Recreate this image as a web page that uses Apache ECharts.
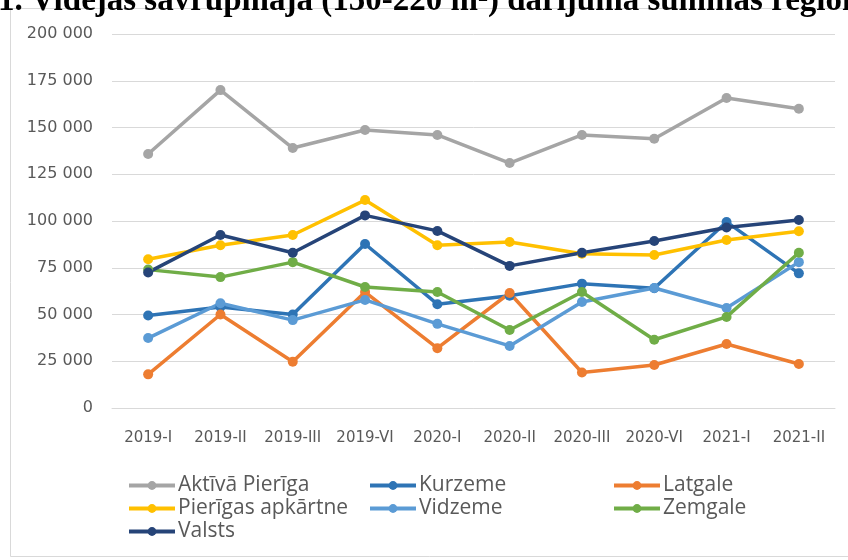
<!DOCTYPE html>
<html>
<head>
<meta charset="utf-8">
<script src="https://cdn.jsdelivr.net/npm/echarts@6/dist/echarts.min.js"></script>
<style>
  html, body { margin: 0; padding: 0; background: #fff; }
  #chart { width: 848px; height: 560px; }
</style>
</head>
<body>
<div id="chart"></div>
<script>
var chart = echarts.init(document.getElementById('chart'));

var periods = ['2019-I', '2019-II', '2019-III', '2019-VI', '2020-I', '2020-II', '2020-III', '2020-VI', '2021-I', '2021-II'];

var aktivaPieriga = [135800, 170000, 139000, 148700, 146000, 131000, 146000, 144000, 165800, 160000];
var kurzeme       = [49500, 54000, 50000, 87700, 55500, 60000, 66500, 64000, 99500, 72000];
var latgale       = [18000, 50000, 24700, 62000, 32000, 61500, 19000, 23000, 34200, 23500];
var pierigasApk   = [79500, 87000, 92500, 111200, 87000, 88800, 82500, 81800, 89800, 94500];
var vidzeme       = [37400, 56000, 47000, 57800, 45000, 33200, 56700, 64200, 53500, 78000];
var zemgale       = [74000, 70000, 78000, 64700, 62000, 41700, 62000, 36500, 48700, 83000];
var valsts        = [72500, 92500, 83000, 103000, 94700, 76000, 83000, 89300, 96500, 100500];

var titleText = '1. Vidējās savrupmāja (150-220 m²) darījuma summas reģionos';

function line(name, data, color) {
    return {
        name: name,
        type: 'line',
        data: data,
        symbol: 'circle',
        symbolSize: 10,
        lineStyle: { width: 3.5, color: color },
        itemStyle: { color: color },
        animation: false
    };
}

var legendStyle = {
    orient: 'vertical',
    top: 469,
    itemGap: 0,
    itemWidth: 46,
    itemHeight: 11,
    lineStyle: { width: 4 },
    textStyle: {
        fontSize: 21, lineHeight: 23, color: '#595959',
        fontFamily: 'Open Sans', padding: [0, 0, 0, -2]
    }
};

var option = {
    backgroundColor: '#fff',
    textStyle: { fontFamily: 'DejaVu Sans' },
    graphic: [
        {
            type: 'rect',
            shape: { x: 10.5, y: 8.5, width: 860, height: 548 },
            style: { fill: 'none', stroke: '#d9d9d9', lineWidth: 1 },
            z: -1
        },
        {
            type: 'text',
            left: -2,
            top: -15,
            style: {
                text: titleText,
                font: 'bold 33px "Liberation Serif"',
                fill: '#000'
            }
        }
    ],
    grid: { left: 112, right: 13, top: 34, bottom: 152 },
    legend: [
        Object.assign({ left: 122, data: ['Aktīvā Pierīga', 'Pierīgas apkārtne', 'Valsts'] }, legendStyle),
        Object.assign({ left: 363, data: ['Kurzeme', 'Vidzeme'] }, legendStyle),
        Object.assign({ left: 607, data: ['Latgale', 'Zemgale'] }, legendStyle)
    ],
    xAxis: {
        type: 'category',
        data: periods,
        boundaryGap: true,
        axisLine: { lineStyle: { color: '#d9d9d9', width: 1 } },
        axisTick: { show: false },
        axisLabel: { interval: 0, color: '#595959', fontSize: 15, margin: 23, fontFamily: 'DejaVu Sans' }
    },
    yAxis: {
        type: 'value',
        min: 0,
        max: 200000,
        interval: 25000,
        axisLine: { show: false },
        axisTick: { show: false },
        splitLine: { lineStyle: { color: '#d9d9d9', width: 1 } },
        axisLabel: {
            color: '#595959',
            fontSize: 16,
            margin: 19,
            fontFamily: 'DejaVu Sans',
            formatter: function (v) {
                return v === 0 ? '0' : String(v).replace(/\B(?=(\d{3})+(?!\d))/g, ' ');
            }
        }
    },
    series: [
        line('Aktīvā Pierīga', aktivaPieriga, '#a5a5a5'),
        line('Kurzeme', kurzeme, '#2e74b5'),
        line('Latgale', latgale, '#ed7d31'),
        line('Pierīgas apkārtne', pierigasApk, '#ffc000'),
        line('Vidzeme', vidzeme, '#5b9bd5'),
        line('Zemgale', zemgale, '#70ad47'),
        line('Valsts', valsts, '#264478')
    ]
};

chart.setOption(option);
</script>
</body>
</html>
